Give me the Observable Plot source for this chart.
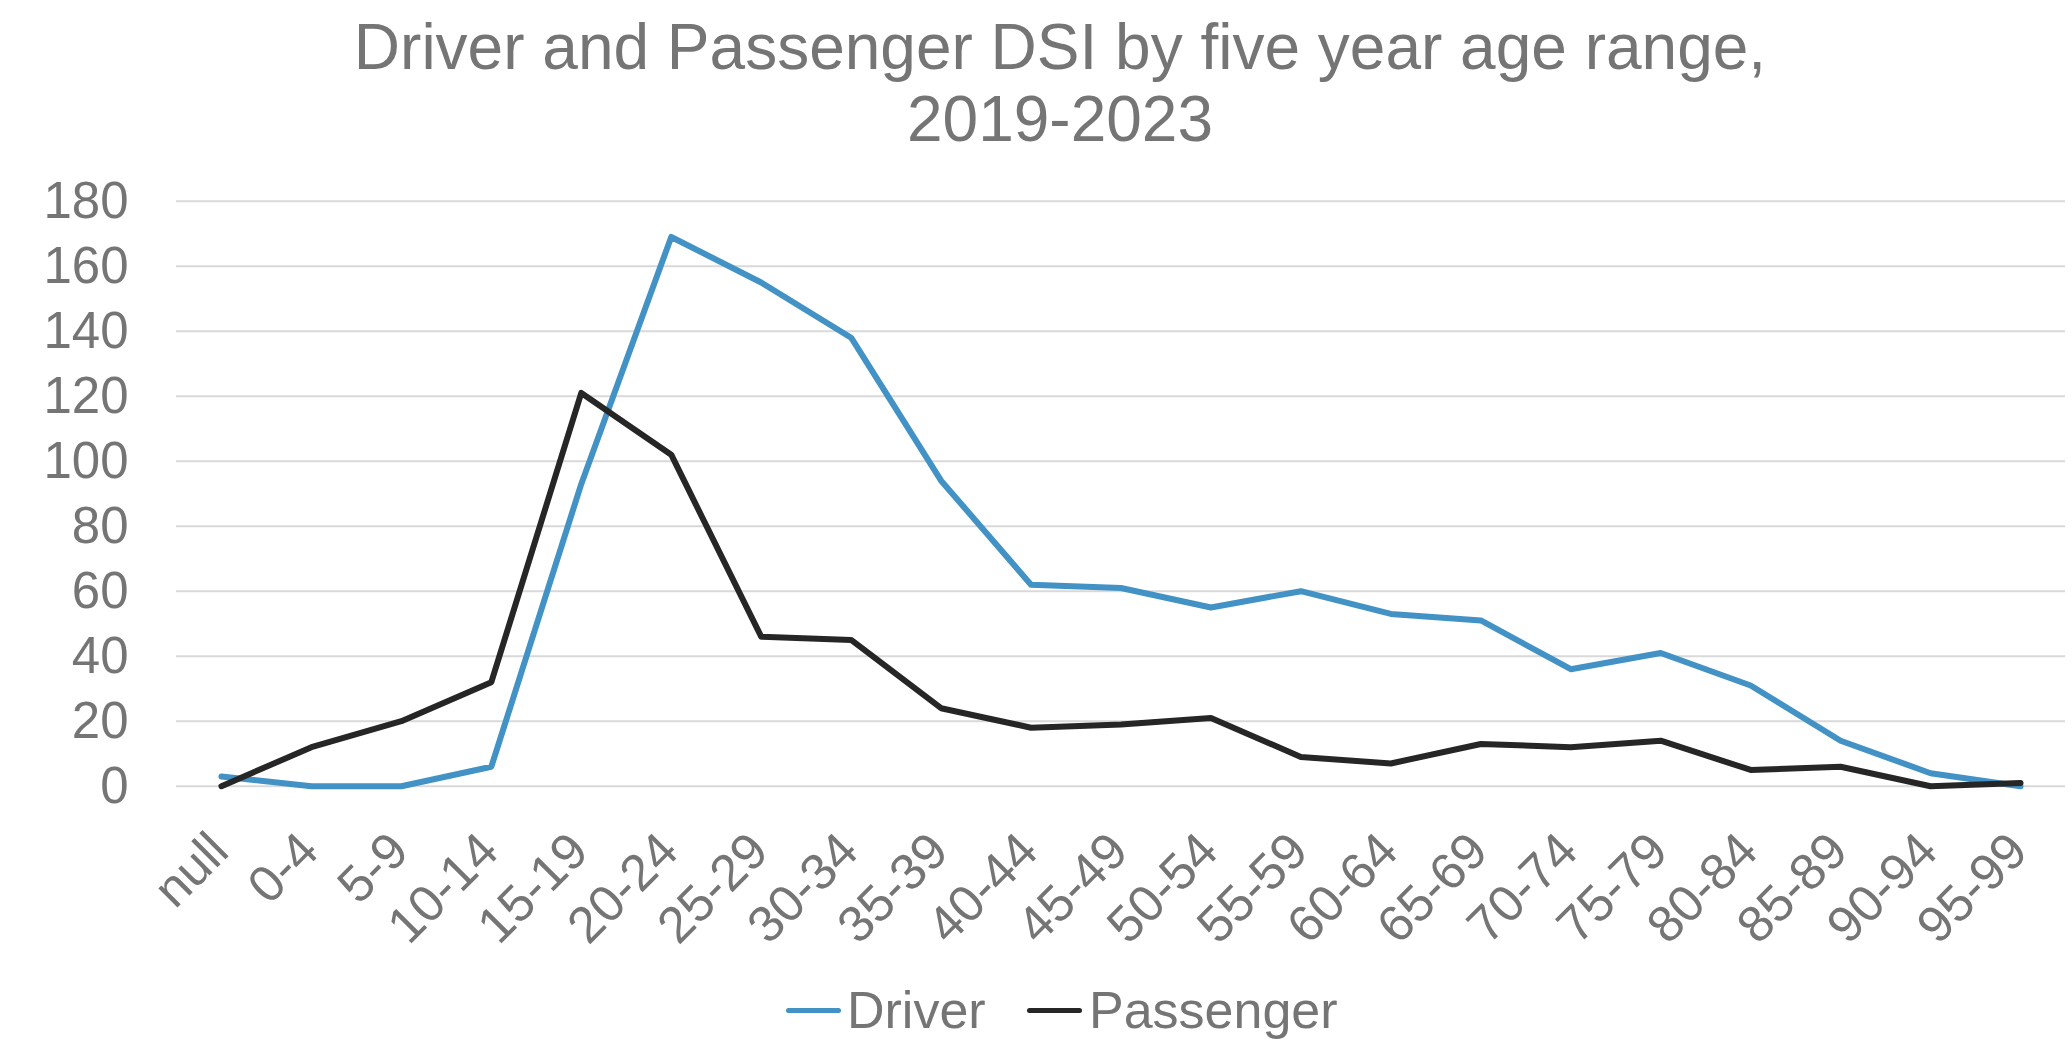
<!DOCTYPE html>
<html>
<head>
<meta charset="utf-8">
<script src="https://cdn.jsdelivr.net/npm/d3@7"></script>
<script src="https://cdn.jsdelivr.net/npm/@observablehq/plot@0.6"></script>
<style>
  html, body { margin: 0; padding: 0; background: #ffffff; }
  body { width: 2072px; height: 1046px; position: relative; overflow: hidden;
         font-family: "Liberation Sans", Arial, sans-serif; color: #757575; }
  #title { position: absolute; top: 11px; left: 48px; width: 2024px; text-align: center;
           font-size: 64px; line-height: 72px; }
  #chart { position: absolute; top: 150px; left: 0; }
  .swatch { position: absolute; height: 5px; border-radius: 3px; top: 1008px; width: 55px; }
  .legend-label { position: absolute; top: 980px; font-size: 52px; line-height: 60px; white-space: nowrap; }
</style>
</head>
<body>
<div id="title">Driver and Passenger DSI by five year age range,<br>2019-2023</div>
<div id="chart"></div>
<div class="swatch" style="left:786px; background:#4292c6"></div>
<div class="legend-label" style="left:847px">Driver</div>
<div class="swatch" style="left:1027px; background:#262626"></div>
<div class="legend-label" style="left:1089px">Passenger</div>
<script>
// Age bands on the category axis
const ageBands = ["null", "0-4", "5-9", "10-14", "15-19", "20-24", "25-29", "30-34", "35-39",
  "40-44", "45-49", "50-54", "55-59", "60-64", "65-69", "70-74", "75-79", "80-84", "85-89",
  "90-94", "95-99"];

// DSI counts per age band, 2019-2023
const driver = [3, 0, 0, 6, 93, 169, 155, 138, 94, 62, 61, 55, 60, 53, 51, 36, 41, 31, 14, 4, 0];
const passenger = [0, 12, 20, 32, 121, 102, 46, 45, 24, 18, 19, 21, 9, 7, 13, 12, 14, 5, 6, 0, 1];

const seriesNames = ["Driver", "Passenger"];
const seriesColors = ["#4292c6", "#262626"];
const yTicks = [0, 20, 40, 60, 80, 100, 120, 140, 160, 180];

// Long-format table for the line marks
const rows = [];
ageBands.forEach((band, i) => rows.push({band, series: "Driver", value: driver[i]}));
ageBands.forEach((band, i) => rows.push({band, series: "Passenger", value: passenger[i]}));

const chart = Plot.plot({
  width: 2072,
  height: 810,
  marginTop: 50.7,
  marginBottom: 174.3,
  marginLeft: 176,
  marginRight: 7,
  style: {fontFamily: "'Liberation Sans', Arial, sans-serif", color: "#757575", background: "#ffffff", overflow: "visible"},
  x: {type: "point", domain: ageBands, padding: 0.5, round: false, axis: null},
  y: {domain: [0, 180], axis: null},
  color: {domain: seriesNames, range: seriesColors},
  marks: [
    Plot.gridY(yTicks, {stroke: "#d9d9d9", strokeOpacity: 1, strokeWidth: 2}),
    Plot.axisY(yTicks, {tickSize: 0, tickPadding: 48, fontSize: 51, label: null, fill: "#757575"}),
    Plot.text(ageBands, {
      x: d => d,
      frameAnchor: "bottom",
      rotate: -45,
      textAnchor: "end",
      lineAnchor: "top",
      dx: -16,
      dy: 42,
      fontSize: 51,
      fill: "#757575"
    }),
    Plot.line(rows, {
      x: "band", y: "value", z: "series", stroke: "series",
      strokeWidth: 6, strokeLinejoin: "round", strokeLinecap: "round"
    })
  ]
});
document.getElementById("chart").appendChild(chart);
</script>
</body>
</html>
